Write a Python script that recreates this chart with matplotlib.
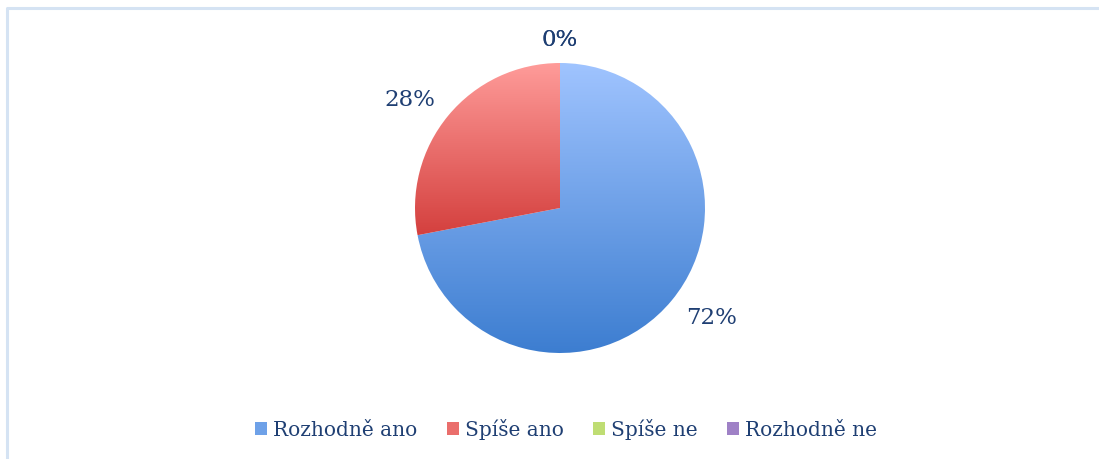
import numpy as np
import matplotlib.pyplot as plt
from matplotlib.colors import LinearSegmentedColormap
from matplotlib.patches import Rectangle

# data
categories = ["Rozhodně ano", "Spíše ano", "Spíše ne", "Rozhodně ne"]
shares = [72, 28, 0, 0]
pct_labels = ["72%", "28%", "0%", "0%"]

# gradient top/bottom colours per slice
top_colors = ["#a0c4ff", "#ff9c9a", "#e2ffa6", "#c2a8e6"]
bottom_colors = ["#3c7dd0", "#d4403e", "#9bbb3f", "#7b5aa6"]
text_color = "#1f3f73"

plt.rcParams['font.family'] = ['DejaVu Serif']

fig = plt.figure(figsize=(10.99, 4.59), dpi=100)

# chart frame (only top and left edges show in the crop)
frame = fig.add_axes([0, 0, 1, 1])
frame.set_xlim(0, 1099)
frame.set_ylim(459, 0)
frame.axis('off')
frame.plot([7, 7, 1099], [459, 8, 8], color="#d5e3f3", lw=2.2)

# pie axes: square 400 px, centred at (560, 208) from top
L = 200 / 145
ax = fig.add_axes([(560 - 200) / 1099, (459 - 208 - 200) / 459, 400 / 1099, 400 / 459])

wedges, _ = ax.pie(shares, startangle=90, counterclock=False, radius=1,
                   wedgeprops=dict(linewidth=0))

for w, c0, c1 in zip(wedges, top_colors, bottom_colors):
    if w.theta2 - w.theta1 < 1e-6:
        w.set_visible(False)
        continue
    w.set_facecolor("none")
    verts = w.get_path().vertices
    ymin, ymax = verts[:, 1].min(), verts[:, 1].max()
    cmap = LinearSegmentedColormap.from_list("g", [c1, c0])
    grad = np.linspace(0, 1, 256).reshape(-1, 1)
    im = ax.imshow(grad, cmap=cmap, origin='lower', aspect='auto',
                   extent=[-1, 1, ymin, ymax], zorder=1)
    im.set_clip_path(w)
ax.set_xlim(-L, L)
ax.set_ylim(-L, L)
ax.axis('off')

# percentage labels at Excel-like best-fit spots (distance, angle nudge)
label_dist = [1.29, 1.275, 1.16, 1.16]
label_nudge = [3.5, 3.8, 0, 0]
for w, txt, d, nd in zip(wedges, pct_labels, label_dist, label_nudge):
    ang = np.deg2rad((w.theta1 + w.theta2) / 2 + nd)
    ax.text(d * np.cos(ang), d * np.sin(ang), txt, ha='center', va='center',
            fontsize=16.5, color=text_color, zorder=3)

# legend with square swatches
handles = [Rectangle((0, 0), 1, 1, facecolor=LinearSegmentedColormap.from_list("g", [c1, c0])(0.5))
           for c0, c1 in zip(top_colors, bottom_colors)]
fig.legend(handles, categories, loc='center', bbox_to_anchor=(566 / 1099, 1 - 429 / 459),
           ncol=4, frameon=False, fontsize=14.5, labelcolor=text_color,
           handlelength=0.6, handleheight=0.6, handletextpad=0.3, columnspacing=1.45)

fig.savefig("out.png", dpi=100)
